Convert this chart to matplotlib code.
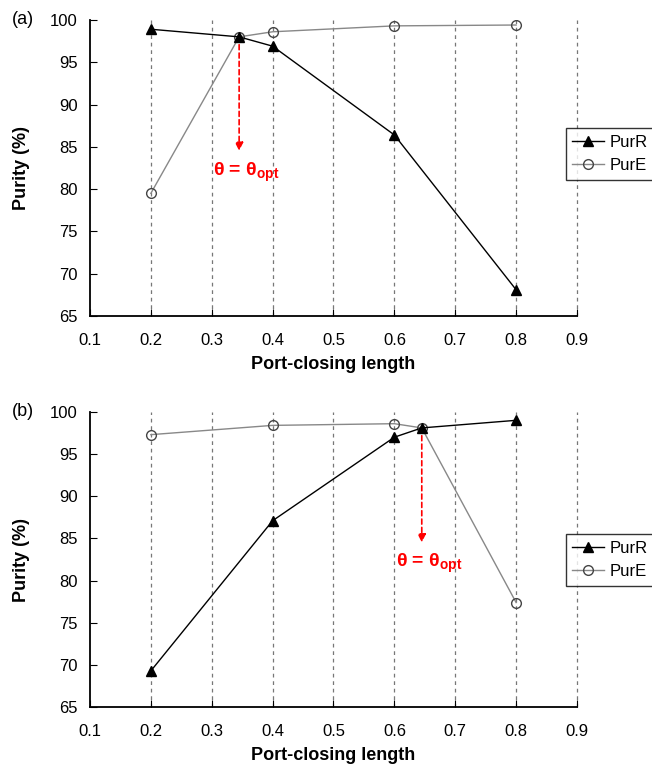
import numpy as np
import matplotlib
matplotlib.use("Agg")
import matplotlib.pyplot as plt

plt.rcParams['font.family'] = ['Liberation Sans', 'DejaVu Sans']
plt.rcParams['mathtext.fontset'] = 'custom'
plt.rcParams['mathtext.rm'] = 'Liberation Sans'
plt.rcParams['mathtext.bf'] = 'Liberation Sans:bold'

# panel (a)
x_a = [0.2, 0.345, 0.4, 0.6, 0.8]
purR_a = [98.9, 98.0, 96.9, 86.4, 68.1]
purE_a = [79.5, 98.0, 98.6, 99.3, 99.4]
opt_a = 0.345

# panel (b)
x_b = [0.2, 0.4, 0.6, 0.645, 0.8]
purR_b = [69.3, 87.1, 97.0, 98.1, 99.0]
purE_b = [97.3, 98.4, 98.6, 98.1, 77.4]
opt_b = 0.645

xticks = [0.1, 0.2, 0.3, 0.4, 0.5, 0.6, 0.7, 0.8, 0.9]
yticks = [65, 70, 75, 80, 85, 90, 95, 100]

fig = plt.figure(figsize=(6.52, 7.67), dpi=100)
ax_a = fig.add_axes([0.138, 0.588, 0.747, 0.386])
ax_b = fig.add_axes([0.138, 0.078, 0.747, 0.385])


def draw(ax, x, r, e, xopt, yopt, label, leg_y):
    for xv in xticks[1:]:
        ax.axvline(xv, color='#777777', ls=(0, (3, 3)), lw=0.9, zorder=0,
                   clip_on=False)
    ax.plot(x, r, color='black', lw=1.0, marker='^', ms=7, mfc='black',
            mec='black', label='PurR', zorder=3)
    ax.plot(x, e, color='#888888', lw=1.0, marker='o', ms=7, mfc='none',
            mec='#444444', label='PurE', zorder=2)
    ax.annotate('', xy=(xopt, 84.2), xytext=(xopt, yopt - 0.6),
                arrowprops=dict(arrowstyle='-|>', color='red', lw=1.2,
                                ls=(0, (3, 2)), mutation_scale=12))
    ax.text(xopt + 0.012, 82.0, 'θ = θ$_{\\mathbf{opt}}$',
            color='red', fontsize=14, fontweight='bold', ha='center', va='center')
    ax.set_xlim(0.1, 0.9)
    ax.set_ylim(65, 100)
    ax.set_xticks(xticks)
    ax.set_yticks(yticks)
    ax.set_xticklabels([str(t) for t in xticks])
    ax.tick_params(direction='in', labelsize=12, length=5, pad=9)
    ax.tick_params(axis='x', pad=12)
    ax.spines['top'].set_visible(False)
    ax.spines['right'].set_visible(False)
    ax.spines['left'].set_linewidth(1.3)
    ax.spines['bottom'].set_linewidth(1.3)
    ax.set_xlabel('Port-closing length', fontsize=13, fontweight='bold', labelpad=6)
    ax.set_ylabel('Purity (%)', fontsize=13, fontweight='bold', labelpad=14)
    ax.text(-0.16, 1.0, label, transform=ax.transAxes, fontsize=13,
            ha='left', va='center')
    leg = ax.legend(loc='upper left', bbox_to_anchor=(0.977, leg_y),
                    borderaxespad=0, fontsize=12, frameon=True, fancybox=False,
                    edgecolor='black', handlelength=1.9, handletextpad=0.3)
    leg.get_frame().set_linewidth(1.0)


draw(ax_a, x_a, purR_a, purE_a, opt_a, 98.0, '(a)', 0.635)
draw(ax_b, x_b, purR_b, purE_b, opt_b, 98.1, '(b)', 0.586)

fig.savefig('out.png', dpi=100)
